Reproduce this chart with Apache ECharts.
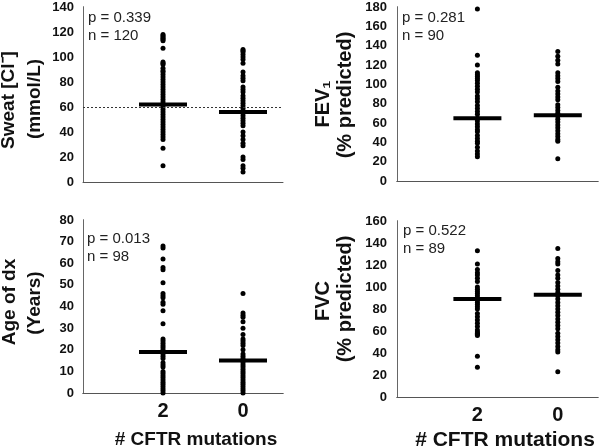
<!DOCTYPE html>
<html><head><meta charset="utf-8">
<script src="https://cdn.jsdelivr.net/npm/echarts@6/dist/echarts.min.js"></script>
<style>html,body{margin:0;padding:0;background:#fff}#c{width:601px;height:446px}</style>
</head><body><div id="c"></div>
<script>
// Categories (# CFTR mutations)
const groups = ['2', '0'];

// Sweat chloride (mmol/L)
const sweatTwo = [118,117,116,115,114,113,107,96,95,94,91,89,88,86,84,82,80,78,76,74,72,70,68,66,64,62,60,58,56,54,52,50,48,46,44,42,40,38,36,34,27,13];
const sweatZero = [106,105,104,102,100,98,95,88,85,83,81,76,74,72,69,67,65,63,61,59,57,55,53,51,49,47,45,40,37,34,31,29,20,18,13,11,8];
const sweatMedian = [62, 56];
const sweatRef = 60;

// FEV1 (% predicted)
const fev1Two = [178,130,120,112,110,108,106,104,101,98,95,92,88,85,82,78,75,72,69,65,62,59,56,53,51,47,44,41,39,35,31,28,25];
const fev1Zero = [134,129,125,121,112,109,106,103,97,93,90,87,84,79,76,73,70,67,64,61,58,55,52,49,46,43,41,23];
const fev1Median = [65, 68];

// Age of dx (years)
const ageTwo = [68,67,62,58,57,51,46,45,44,42,41,38,32,25,24,23,22,21,20,18,17,16,14,13,12,10,9,8,7,6,5,4,3,2,1,0];
const ageZero = [46,37,36,35,33,30,27,25,24,23,22,20,18,17,16,15,14,13,12,11,10,9,8,7,6,5,4,3,2,1,0];
const ageMedian = [19, 15];

// FVC (% predicted)
const fvcTwo = [133,121,116,113,111,108,105,100,98,96,94,92,90,88,86,84,82,80,76,73,70,67,64,61,59,58,57,56,37,27];
const fvcZero = [135,126,123,121,115,111,108,104,101,98,95,92,89,86,83,80,77,74,71,68,65,62,58,55,52,49,46,43,41,23];
const fvcMedian = [89, 93];

// Statistics and axis settings
const pValues = ['0.339', '0.281', '0.013', '0.522'];
const nValues = [120, 90, 98, 89];
const yMax = [140, 180, 80, 160];
const yInterval = [20, 20, 10, 20];
const yTitles = [['Sweat [Cl\u207B]', '(mmol/L)'], ['FEV\u2081', '(% predicted)'], ['Age of dx', '(Years)'], ['FVC', '(% predicted)']];
const xTitle = '# CFTR mutations';

const FONT = '"Liberation Sans", Arial, Helvetica, sans-serif';
const slot = i => 2 + 2 * i;

const panelData = [
  [sweatTwo, sweatZero, sweatMedian],
  [fev1Two, fev1Zero, fev1Median],
  [ageTwo, ageZero, ageMedian],
  [fvcTwo, fvcZero, fvcMedian]
];
const layout = [
  {left: 83, top: 7, width: 200, height: 175, topLine: false, xLabels: false, labelMargin: 9},
  {left: 397, top: 7, width: 201, height: 174, topLine: true, xLabels: false, labelMargin: 10},
  {left: 83, top: 220, width: 200, height: 173, topLine: true, xLabels: true, labelMargin: 9},
  {left: 397, top: 221, width: 201, height: 176, topLine: true, xLabels: true, labelMargin: 10}
];

const grid = [], xAxis = [], yAxis = [], series = [], graphic = [];
layout.forEach((L, k) => {
  grid.push({left: L.left, top: L.top, width: L.width, height: L.height});
  xAxis.push({
    type: 'value', gridIndex: k, min: 0, max: 5, interval: 2, position: 'bottom',
    axisLine: {show: true, lineStyle: {color: '#555', width: 1}},
    axisTick: {show: false}, splitLine: {show: false},
    axisLabel: {show: L.xLabels, margin: 8, color: '#111', fontFamily: FONT, fontWeight: 'bold', fontSize: 20,
      formatter: v => { const i = (v - 2) / 2; return (Number.isInteger(i) && groups[i] !== undefined) ? groups[i] : ''; }}
  });
  xAxis.push({
    type: 'value', gridIndex: k, min: 0, max: 5, position: 'top',
    axisLine: {show: L.topLine, lineStyle: {color: '#555', width: 1}},
    axisTick: {show: false}, splitLine: {show: false}, axisLabel: {show: false}
  });
  yAxis.push({
    type: 'value', gridIndex: k, min: 0, max: yMax[k], interval: yInterval[k], position: 'left',
    axisLine: {show: true, lineStyle: {color: '#333', width: 1}},
    axisTick: {show: false}, splitLine: {show: false},
    axisLabel: {margin: L.labelMargin, color: '#111', fontFamily: FONT, fontWeight: 'bold', fontSize: 13}
  });
  yAxis.push({
    type: 'value', gridIndex: k, min: 0, max: yMax[k], position: 'right',
    axisLine: {show: true, lineStyle: {color: '#666', width: 1}},
    axisTick: {show: false}, splitLine: {show: false}, axisLabel: {show: false}
  });
  const [two, zero, med] = panelData[k];
  [two, zero].forEach((vals, gi) => {
    const s = {
      type: 'scatter', xAxisIndex: 2 * k, yAxisIndex: 2 * k,
      symbol: 'circle', symbolSize: 5, itemStyle: {color: '#000', opacity: 1}, silent: true,
      data: vals.map(v => [slot(gi), v])
    };
    if (k === 0 && gi === 0) {
      s.markLine = {silent: true, symbol: 'none', label: {show: false},
        lineStyle: {type: [2, 2], color: '#333', width: 1, opacity: 1}, data: [{yAxis: sweatRef}]};
    }
    series.push(s);
  });
  series.push({
    type: 'scatter', xAxisIndex: 2 * k, yAxisIndex: 2 * k, silent: true, z: 3,
    symbol: 'rect', symbolSize: [48, 4], itemStyle: {color: '#000', opacity: 1},
    data: med.map((m, gi) => [slot(gi), m])
  });
});

// Y titles (two lines, rotated)
const yTitlePos = [
  [[9, 100], [35, 99]],
  [[323, 104], [345, 95]],
  [[10, 302], [35, 303]],
  [[323, 301], [345, 299]]
];
const yTitleSize = [19, 20, 19, 20];
yTitles.forEach((t, k) => {
  t.forEach((line, li) => {
    graphic.push({type: 'text', x: yTitlePos[k][li][0], y: yTitlePos[k][li][1], rotation: Math.PI / 2,
      style: {text: line, fill: '#111', font: 'bold ' + yTitleSize[k] + 'px ' + FONT, align: 'center', verticalAlign: 'middle'}});
  });
});
// Stats annotations
const statPos = [[88, 18], [402, 18], [87, 239], [403, 231]];
statPos.forEach((p, k) => {
  graphic.push({type: 'text', x: p[0], y: p[1],
    style: {text: 'p = ' + pValues[k], fill: '#222', font: '15px ' + FONT, align: 'left', verticalAlign: 'middle'}});
  graphic.push({type: 'text', x: p[0], y: p[1] + 18,
    style: {text: 'n = ' + nValues[k], fill: '#222', font: '15px ' + FONT, align: 'left', verticalAlign: 'middle'}});
});
// X titles
[[196, 440, 19], [505, 440, 21]].forEach(p => {
  graphic.push({type: 'text', x: p[0], y: p[1],
    style: {text: xTitle, fill: '#111', font: 'bold ' + p[2] + 'px ' + FONT, align: 'center', verticalAlign: 'middle'}});
});

const chart = echarts.init(document.getElementById('c'), null, {renderer: 'canvas'});
chart.setOption({animation: false, backgroundColor: '#fff', grid, xAxis, yAxis, series, graphic});
</script>
</body></html>
